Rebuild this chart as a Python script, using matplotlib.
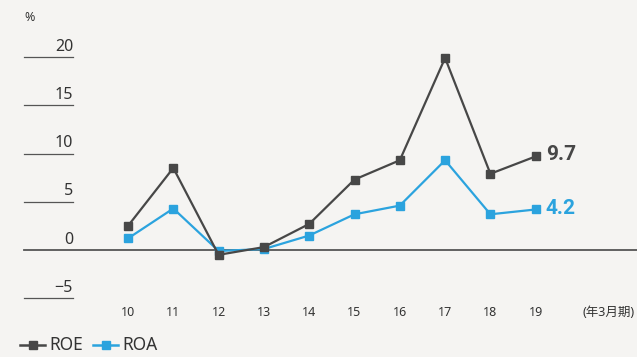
import matplotlib.pyplot as plt

plt.rcParams['font.family'] = ['Noto Sans', 'Noto Sans CJK JP', 'DejaVu Sans']

years = [10, 11, 12, 13, 14, 15, 16, 17, 18, 19]
roe = [2.5, 8.5, -0.5, 0.3, 2.7, 7.3, 9.3, 19.9, 7.9, 9.7]
roa = [1.2, 4.3, -0.1, 0.1, 1.5, 3.7, 4.6, 9.3, 3.7, 4.2]
yticks = [20, 15, 10, 5, 0, -5]
ytick_labels = ['20', '15', '10', '5', '0', '\u22125']

bg = '#f5f4f2'
c_roe = '#474747'
c_roa = '#2ba3de'

W, H = 637, 357
fig = plt.figure(figsize=(W / 100, H / 100), dpi=100, facecolor=bg)
ax = fig.add_axes([0, 0, 1, 1], facecolor=bg)

# pixel mapping: zero at y=250px, 9.65px per unit; year 10 at x=128px, 45.3px per year
ppu, y0 = 9.65, 250
ppx, x0 = 45.3, 128
ax.set_ylim(-(H - y0) / ppu, y0 / ppu)
ax.set_xlim(10 - x0 / ppx, 10 + (W - x0) / ppx)
ax.axis('off')

for v, lab in zip(yticks, ytick_labels):
    if v == 0:
        ax.axhline(0, xmin=24 / W, xmax=1, color='#555555', lw=1.3, zorder=1)
    else:
        ax.axhline(v, xmin=24 / W, xmax=73 / W, color='#555555', lw=0.9, zorder=1)
    ax.text(73 / W, v + 0.25, lab, transform=ax.get_yaxis_transform(),
            ha='right', va='bottom', fontsize=11.5, color='#333333')

ax.text(24 / W, 1 - 11 / H, '%', transform=ax.transAxes, ha='left', va='top',
        fontsize=9, color='#333333')

ax.plot(years, roe, color=c_roe, lw=1.6, marker='s', ms=6, zorder=3)
ax.plot(years, roa, color=c_roa, lw=1.6, marker='s', ms=6, zorder=2)

ax.text(years[-1] + 0.22, roe[-1] + 0.2, '9.7', color=c_roe, fontsize=15,
        family='Roboto', fontweight='bold', ha='left', va='center')
ax.text(years[-1] + 0.22, roa[-1] + 0.1, '4.2', color=c_roa, fontsize=15,
        family='Roboto', fontweight='bold', ha='left', va='center')

for yr in years:
    ax.text(yr, -(313 - y0) / ppu, str(yr), ha='center', va='center',
            fontsize=9, color='#333333')
ax.text(1 - 2 / W, -(313 - y0) / ppu, '(年3月期)', transform=ax.get_yaxis_transform(),
        ha='right', va='center', fontsize=9, color='#333333')

# legend
ly = 345
for xs, col, name in [(20, c_roe, 'ROE'), (93, c_roa, 'ROA')]:
    fig.add_artist(plt.Line2D([xs / W, (xs + 25) / W], [1 - ly / H] * 2, color=col,
                              lw=1.8, transform=fig.transFigure))
    fig.add_artist(plt.Line2D([(xs + 12.5) / W], [1 - ly / H], color=col,
                              marker='s', ms=5.5, transform=fig.transFigure))
    fig.text((xs + 29) / W, 1 - ly / H, name, ha='left', va='center',
             fontsize=12.5, color='#333333')

fig.savefig('out.png', dpi=100, facecolor=bg)
